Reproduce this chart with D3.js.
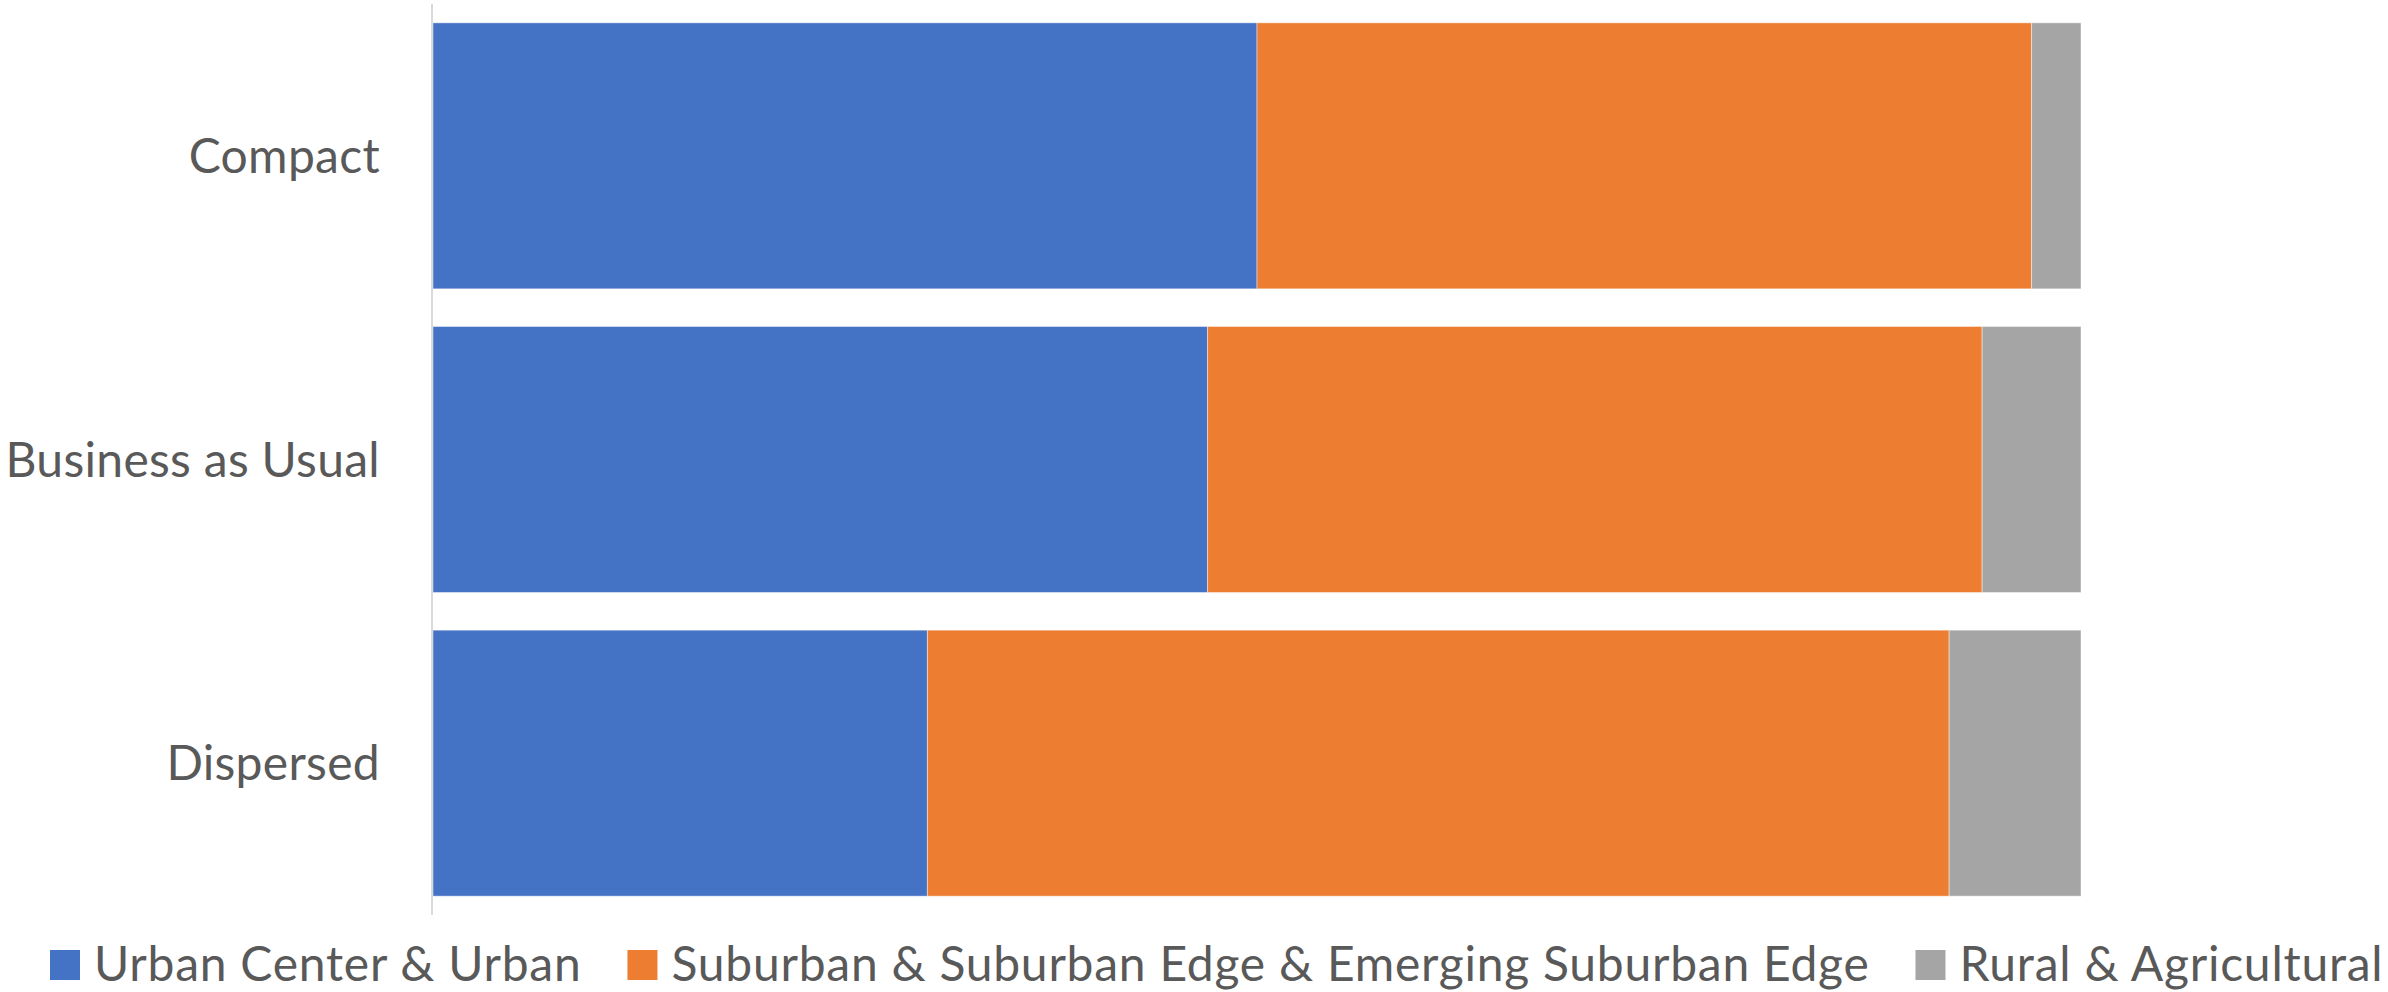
<!DOCTYPE html>
<html>
<head>
<meta charset="utf-8">
<script src="https://cdn.jsdelivr.net/npm/d3@7"></script>
<style>
  html, body { margin: 0; padding: 0; background: #fff; }
  svg { display: block; }
  text { font-family: Lato, "Open Sans", sans-serif; fill: #595959; }
</style>
</head>
<body>
<svg id="chart" width="2388" height="992"></svg>
<script>
const categories = ["Compact", "Business as Usual", "Dispersed"];
const seriesNames = ["Urban Center & Urban", "Suburban & Suburban Edge & Emerging Suburban Edge", "Rural & Agricultural"];
const urbanValues = [50, 47, 30];
const suburbanValues = [47, 47, 62];
const ruralValues = [3, 6, 8];
const colors = ["#4472C4", "#ED7D31", "#A5A5A5"];

const rows = categories.map((c, i) => ({
  category: c,
  s0: urbanValues[i], s1: suburbanValues[i], s2: ruralValues[i]
}));

const svg = d3.select("#chart");
const plot = { left: 433, right: 2081, top: 4, bottom: 915 };

const x = d3.scaleLinear().domain([0, 100]).range([plot.left, plot.right]);
const y = d3.scaleBand().domain(categories).range([plot.top, plot.bottom])
  .paddingInner(0.124).paddingOuter(0.062);

const stacked = d3.stack().keys(["s0", "s1", "s2"])(rows);

svg.append("g").selectAll("g").data(stacked).join("g")
  .attr("fill", (d, i) => colors[i])
  .selectAll("rect").data(d => d).join("rect")
  .attr("x", d => x(d[0]))
  .attr("y", d => y(d.data.category))
  .attr("width", d => x(d[1]) - x(d[0]))
  .attr("height", y.bandwidth())
  .attr("stroke", "#ffffff")
  .attr("stroke-opacity", 0.45)
  .attr("stroke-width", 1);

// vertical axis line
svg.append("line")
  .attr("x1", plot.left - 1).attr("x2", plot.left - 1)
  .attr("y1", plot.top).attr("y2", plot.bottom)
  .attr("stroke", "#d9d9d9").attr("stroke-width", 2);

// category labels
const yAxis = d3.axisLeft(y).tickSize(0).tickPadding(0);
const ag = svg.append("g").attr("transform", `translate(380,0)`).call(yAxis);
ag.select(".domain").remove();
ag.selectAll("text")
  .attr("font-size", 48)
  .attr("font-family", "Lato, 'Open Sans', sans-serif")
  .attr("fill", "#595959")
  .attr("letter-spacing", 0.3)
  .attr("dy", "0.36em");

// legend
const legend = svg.append("g");
let cx = 50;
const legendY = 965;
seriesNames.forEach((name, i) => {
  const g = legend.append("g");
  g.append("rect").attr("x", cx).attr("y", legendY - 15).attr("width", 30).attr("height", 30).attr("fill", colors[i]);
  const t = g.append("text").attr("x", cx + 44).attr("y", legendY).attr("dy", "0.34em")
    .attr("font-size", 48).attr("letter-spacing", 0.75).text(name);
  const w = t.node().getComputedTextLength();
  cx = cx + 44 + w + 46;
});
</script>
</body>
</html>
